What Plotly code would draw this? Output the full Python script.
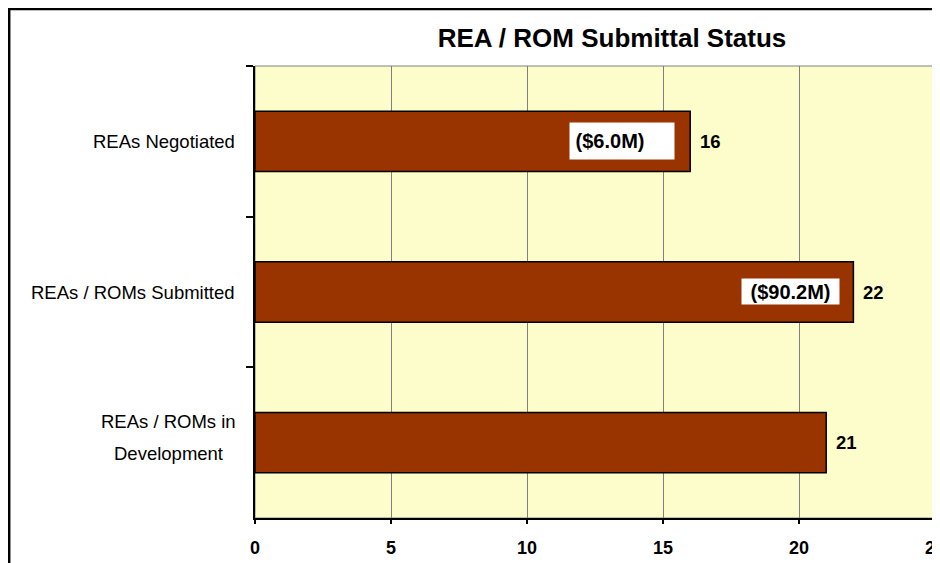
import plotly.graph_objects as go

# data
categories = ["REAs Negotiated", "REAs / ROMs Submitted", "REAs / ROMs in Development"]
counts = [16, 22, 21]
label_lines = [["REAs Negotiated"], ["REAs / ROMs Submitted"], ["REAs / ROMs in", "Development"]]
money_labels = ["($6.0M)", "($90.2M)", None]
money_pos = [13.48, 19.67, None]
x_ticks = [0, 5, 10, 15, 20, 25]

FONT = "Liberation Sans, Arial, sans-serif"

fig = go.Figure()
fig.add_trace(go.Bar(
    x=counts, y=categories, orientation="h",
    marker=dict(color="#993300", line=dict(color="black", width=1.5)),
    hoverinfo="x+y",
))

annotations = []
# bar value labels
for cat, v in zip(categories, counts):
    annotations.append(dict(
        x=v, y=cat, xref="x", yref="y", text="<b>%d</b>" % v, showarrow=False,
        xanchor="left", xshift=8, font=dict(family=FONT, size=18.5, color="black")))

# dollar boxes
annotations.append(dict(
    x=money_pos[0], y=categories[0], xref="x", yref="y", text="<b>\u00a0" + money_labels[0] + "</b>",
    showarrow=False, align="left", width=104, height=36, borderpad=0, bgcolor="white",
    font=dict(family=FONT, size=20, color="black")))
annotations.append(dict(
    x=money_pos[1], y=categories[1], xref="x", yref="y", text="<b>" + money_labels[1] + "</b>",
    showarrow=False, align="center", width=97, height=25, borderpad=0, bgcolor="white",
    yshift=1, font=dict(family=FONT, size=20, color="black")))

# category labels (centered multi-line like the original)
for cat, lines in zip(categories, label_lines):
    if len(lines) == 1:
        annotations.append(dict(
            x=0, y=cat, xref="paper", yref="y", text=lines[0], showarrow=False,
            xanchor="right", xshift=-18, font=dict(family=FONT, size=18.5, color="black")))
    else:
        for line, ys in zip(lines, [21, -11]):
            annotations.append(dict(
                x=0, y=cat, xref="paper", yref="y", text=line, showarrow=False,
                xanchor="center", xshift=-86.5, yshift=ys,
                font=dict(family=FONT, size=18.5, color="black")))

fig.update_layout(
    width=940, height=563,
    template="none",
    margin=dict(l=247, r=12.5, t=58, b=53, autoexpand=False),
    paper_bgcolor="white",
    plot_bgcolor="#FDFCCB",
    bargap=0.6,
    showlegend=False,
    title=dict(text="<b>REA / ROM Submittal Status</b>", x=604 / 940, xref="container", xanchor="center",
               y=1 - 30 / 563, yanchor="middle", font=dict(family=FONT, size=26, color="black")),
    annotations=annotations,
    shapes=[
        # plot area frame
        dict(type="rect", xref="x domain", yref="y domain", x0=0, x1=1, y0=0, y1=1,
             line=dict(color="#808080", width=1), layer="below"),
        # outer chart frame
        dict(type="rect", xref="paper", yref="paper", x0=-0.3615, x1=1.0169, y0=-0.115, y1=1.1261,
             line=dict(color="black", width=2.5)),
    ],
)

fig.update_xaxes(
    range=[0, 25], tickvals=x_ticks, showgrid=True, gridcolor="#808080", gridwidth=1,
    zeroline=False, showline=True, linecolor="black", linewidth=2,
    ticks="outside", ticklen=4, tickcolor="black", tickwidth=1.5,
    tickfont=dict(family=FONT, size=18, color="black", weight="bold"),
    ticklabelstandoff=8, automargin=False,
)
fig.update_yaxes(
    type="category", categoryorder="array", categoryarray=categories, autorange="reversed",
    showgrid=False, zeroline=False, showline=True, linecolor="black", linewidth=2,
    ticks="outside", tickson="boundaries", ticklen=7, tickcolor="black", tickwidth=1.5,
    showticklabels=False, automargin=False,
)

fig.write_html("out.html")
